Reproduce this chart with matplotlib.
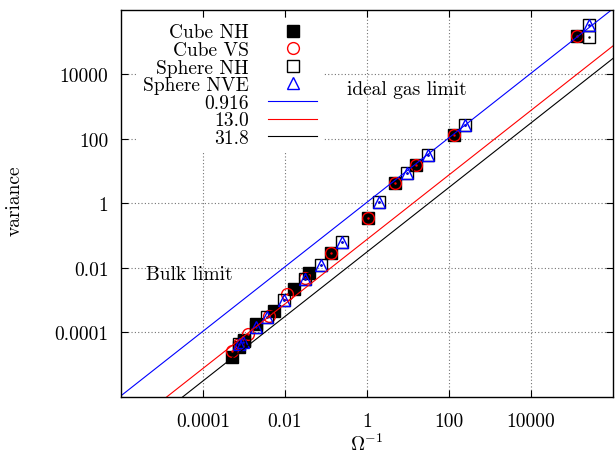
import numpy as np
import matplotlib
matplotlib.use("Agg")
import matplotlib.pyplot as plt
from matplotlib.ticker import FixedLocator, FixedFormatter, NullLocator

plt.rcParams['font.family'] = ['cmr10', 'DejaVu Serif']
plt.rcParams['mathtext.fontset'] = 'cm'
plt.rcParams['axes.formatter.use_mathtext'] = True

# data (x = Omega^-1, y = variance)
cube_nh_x = [5.2e-4, 7.7e-4, 1.02e-3, 1.97e-3, 5.26e-3, 0.0167, 0.0376, 0.13, 1.04, 4.92, 15.9, 130, 1.33e5]
cube_nh_y = [1.74e-5, 3.55e-5, 5.85e-5, 1.84e-4, 4.74e-4, 2.23e-3, 7.0e-3, 0.029, 0.355, 4.23, 16, 136, 1.53e5]

cube_vs_x = [5.2e-4, 7.7e-4, 1.26e-3, 4.14e-3, 0.011, 0.031, 0.13, 1.04, 4.92, 15.9, 130, 1.33e5]
cube_vs_y = [2.67e-5, 4.4e-5, 9.2e-5, 3.3e-4, 1.56e-3, 4.9e-3, 0.029, 0.355, 4.23, 16, 136, 1.53e5]

sphere_nh_x = [7.7e-4, 1.0e-3, 1.97e-3, 3.64e-3, 9.3e-3, 0.031, 0.0736, 0.249, 1.93, 9.4, 30.4, 246, 2.66e5, 2.66e5]
sphere_nh_y = [4.4e-5, 5.5e-5, 1.48e-4, 2.96e-4, 1.02e-3, 4.56e-3, 0.0128, 0.0654, 1.14, 9.0, 32.6, 272, 3.43e5, 1.42e5]

sphere_nve_x = [7.7e-4, 9.5e-4, 1.97e-3, 3.64e-3, 9.3e-3, 0.031, 0.0736, 0.249, 1.93, 9.4, 30.4, 246, 2.66e5]
sphere_nve_y = [4.4e-5, 5.07e-5, 1.48e-4, 2.96e-4, 1.02e-3, 4.56e-3, 0.0128, 0.0654, 1.14, 9.0, 32.6, 272, 3.43e5]

# lines variance = Omega^-1 / c
line_c = [0.916, 13.0, 31.8]
line_labels = ['0.916', '13.0', '31.8']
line_colors = ['#0000ff', '#ff0000', 'black']

tick_vals = [1e-4, 1e-2, 1, 1e2, 1e4]
tick_labels = ['0.0001', '0.01', '1', '100', '10000']

fig = plt.figure(figsize=(6.15, 4.56), dpi=100)
ax = fig.add_axes([0.1967, 0.1272, 0.8, 0.8487])
ax.set_xscale('log')
ax.set_yscale('log')
ax.set_xlim(1e-6, 1e6)
ax.set_ylim(1e-6, 1e6)

ms = 8.5
ax.plot(cube_nh_x, cube_nh_y, 's', color='black', ms=ms, mew=1, label='Cube NH')
ax.plot(cube_vs_x, cube_vs_y, 'o', mfc='none', mec='#ff0000', ms=ms, mew=1, label='Cube VS')
ax.plot(sphere_nh_x, sphere_nh_y, 's', mfc='none', mec='black', ms=ms, mew=1, label='Sphere NH')
ax.plot(sphere_nve_x, sphere_nve_y, '^', mfc='none', mec='#0000ff', ms=ms, mew=1, label='Sphere NVE')
# gnuplot style centre dots
ax.plot(cube_vs_x, cube_vs_y, '.', color='#ff0000', ms=1.5)
ax.plot(sphere_nh_x, sphere_nh_y, '.', color='black', ms=1.5)
ax.plot(sphere_nve_x, sphere_nve_y, '.', color='#0000ff', ms=1.5)

xl = np.array([1e-6, 1e6])
for c, lab, col in zip(line_c, line_labels, line_colors):
    ax.plot(xl, xl / c, '-', color=col, lw=0.8, label=lab)

ax.xaxis.set_major_locator(FixedLocator(tick_vals))
ax.xaxis.set_major_formatter(FixedFormatter(tick_labels))
ax.yaxis.set_major_locator(FixedLocator(tick_vals))
ax.yaxis.set_major_formatter(FixedFormatter(tick_labels))
ax.xaxis.set_minor_locator(NullLocator())
ax.yaxis.set_minor_locator(NullLocator())
ax.tick_params(direction='in', length=5, width=0.8, top=True, right=True, labelsize=14)
ax.tick_params(axis='x', pad=11)
ax.tick_params(axis='y', pad=9)
ax.grid(True, color='0.45', linestyle=(0, (1, 2)), lw=0.8)
for s in ax.spines.values():
    s.set_linewidth(1.0)

ax.set_xlabel(r'$\Omega^{-1}$', fontsize=14, labelpad=1.5)
ax.set_ylabel('variance', fontsize=14)
ax.yaxis.set_label_coords(-0.197, 0.509)

ax.text(4.1e-6, 0.0065, 'Bulk limit', fontsize=14, va='center')
ax.text(0.32, 3500, 'ideal gas limit', fontsize=14, va='center')

leg = ax.legend(loc='upper right', bbox_to_anchor=(0.41, 0.98), markerfirst=False,
                fontsize=14, labelspacing=-0.02, handlelength=2.5, handletextpad=1.0,
                borderpad=0.3, borderaxespad=0, frameon=True, fancybox=False,
                framealpha=1, edgecolor='none')
leg.get_frame().set_linewidth(0)

fig.savefig('out.png', dpi=100)
